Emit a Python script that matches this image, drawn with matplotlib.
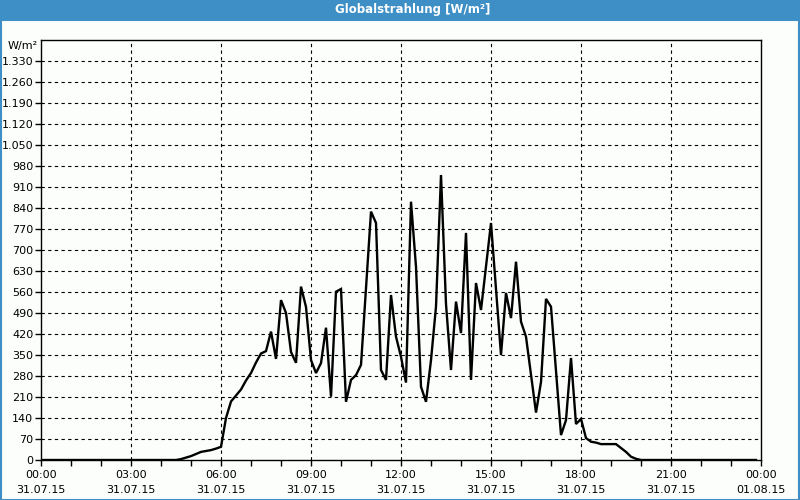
import numpy as np
import matplotlib
matplotlib.use("Agg")
import matplotlib.pyplot as plt
from matplotlib.patches import Rectangle

# ---- data (10-minute samples, 31.07.15 00:00 .. 23:50) ----
minutes = np.arange(0, 1440, 10)
radiation = [
    0, 0, 0, 0, 0, 0, 0, 0, 0, 0, 0, 0,          # 00:00-01:50
    0, 0, 0, 0, 0, 0, 0, 0, 0, 0, 0, 0,          # 02:00-03:50
    0, 0, 0, 0, 3, 8, 13, 20, 27, 30, 33, 38,    # 04:00-05:50
    44, 140, 195, 215, 235, 265, 290, 325, 355, 363, 428, 337,   # 06:00-07:50
    533, 490, 360, 324, 578, 510, 333, 290, 323, 441, 211, 561,  # 08:00-09:50
    570, 194, 267, 283, 317, 575, 828, 790, 300, 267, 550, 411,  # 10:00-11:50
    344, 258, 861, 644, 244, 194, 333, 511, 950, 520, 300, 528,  # 12:00-13:50
    423, 757, 267, 590, 500, 645, 790, 570, 350, 557, 473, 661,  # 14:00-15:50
    461, 411, 285, 158, 260, 537, 511, 297, 83, 133, 340, 120,   # 16:00-17:50
    137, 73, 61, 58, 53, 53, 53, 53, 40, 27, 11, 4,              # 18:00-19:50
    0, 0, 0, 0, 0, 0, 0, 0, 0, 0, 0, 0,          # 20:00-21:50
    0, 0, 0, 0, 0, 0, 0, 0, 0, 0, 0, 0,          # 22:00-23:50
]
y_ticks = list(range(0, 1400, 70))
x_tick_hours = [0, 3, 6, 9, 12, 15, 18, 21, 24]
x_tick_labels = ["00:00\n31.07.15", "03:00\n31.07.15", "06:00\n31.07.15",
                 "09:00\n31.07.15", "12:00\n31.07.15", "15:00\n31.07.15",
                 "18:00\n31.07.15", "21:00\n31.07.15", "00:00\n01.08.15"]
title = "Globalstrahlung [W/m²]"
unit = "W/m²"

BLUE = "#3d8fc6"
BG = "#fbfefb"

fig = plt.figure(figsize=(8, 5), dpi=100, facecolor=BG)
ax = fig.add_axes([41 / 800, 40 / 500, 720 / 800, 420 / 500])
ax.set_facecolor(BG)

hours = minutes / 60.0
ax.plot(hours, radiation, color="black", lw=1.7, solid_joinstyle="miter")

ax.set_xlim(0, 24)
ax.set_ylim(0, 1400)

ax.set_yticks(y_ticks)
ax.set_yticklabels([f"{v:,}".replace(",", ".") for v in y_ticks])
ax.set_xticks(x_tick_hours)
ax.set_xticklabels(x_tick_labels, linespacing=1.6)
ax.set_xticks(range(25), minor=True)

ax.tick_params(axis="both", which="both", direction="out", color="black",
               labelsize=8, width=1)
ax.tick_params(axis="y", length=4, pad=1.5)
ax.tick_params(axis="x", which="major", length=4, pad=3)
ax.tick_params(axis="x", which="minor", length=4)

for v in y_ticks[1:]:
    ax.axhline(v, color="black", lw=0.8, ls=(0, (3, 3)), zorder=0)
for h in x_tick_hours[1:-1]:
    ax.axvline(h, color="black", lw=0.8, ls=(0, (3, 3)), zorder=0)

for s in ax.spines.values():
    s.set_color("black")
    s.set_linewidth(1)

# unit label at the top of the y axis
fig.text(23 / 800, 1 - 46 / 500, unit, fontsize=8, ha="center", va="center")

# title bar
fig.patches.append(Rectangle((0, 1 - 20 / 500), 1, 20 / 500, transform=fig.transFigure,
                             facecolor=BLUE, edgecolor="none", zorder=-1))
fig.text(413 / 800, 1 - 10 / 500, title, color="white", fontsize=8.5,
         fontweight="bold", ha="center", va="center")
# blue frame around figure
fig.patches.append(Rectangle((0.5 / 800, 0.5 / 500), 798.5 / 800, 480 / 500,
                             transform=fig.transFigure, facecolor="none",
                             edgecolor=BLUE, lw=1.5, zorder=-1))

fig.savefig("out.png", dpi=100, facecolor=BG)
